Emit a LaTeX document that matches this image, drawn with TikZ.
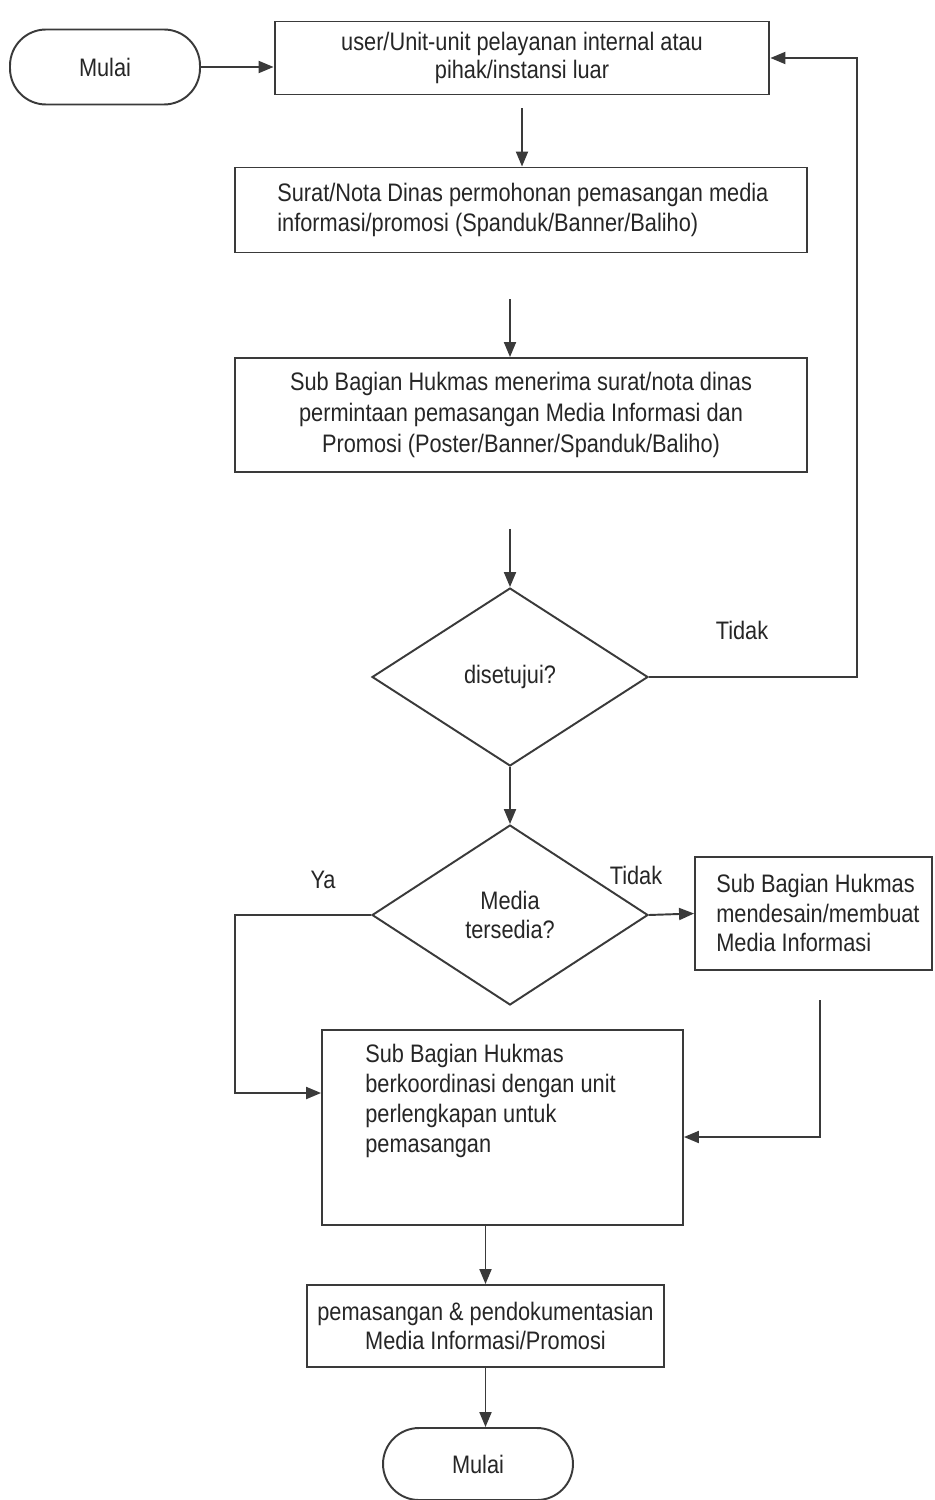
\documentclass[tikz,border=0pt]{standalone}
\usepackage{fontspec}
\setmainfont{Liberation Sans}[FakeStretch=0.86]
\usetikzlibrary{shapes.geometric,arrows.meta,calc}
\definecolor{ln}{HTML}{3A3A3A}
\definecolor{tx}{HTML}{262626}
\begin{document}
\begin{tikzpicture}[x=0.02cm,y=-0.02cm,
  every node/.style={text=tx,font=\fontsize{14.4}{17}\selectfont},
  proc/.style={draw=ln,line width=1.1pt,rectangle,inner sep=0pt,align=center},
  txt/.style={inner sep=0pt,align=left},
  term/.style={draw=ln,line width=1.1pt,rectangle,rounded corners=0.72cm,inner sep=0pt,minimum width=3.8cm},
  dec/.style={draw=ln,line width=1.1pt,diamond,inner sep=0pt,align=center,minimum width=5.52cm},
  arr/.style={draw=ln,line width=1.1pt,-{Triangle[length=0.3cm,width=0.24cm]}},
  lnk/.style={draw=ln,line width=1.1pt}]
\fill[white] (0,0) rectangle (934,1500);
\useasboundingbox (0,0) rectangle (934,1500);

\node[term,minimum height=1.5cm] (start) at (105,67) {Mulai};
\node[proc,minimum width=9.9cm,minimum height=1.46cm,font=\fontsize{14.4}{16}\selectfont] (box1) at (522,58)
  {user/Unit-unit pelayanan internal atau\\pihak/instansi luar};
\node[proc,minimum width=11.44cm,minimum height=1.7cm] (box2) at (521,210) {};
\node[txt,anchor=west] (t2) at (277,210)
  {Surat/Nota Dinas permohonan pemasangan media\\informasi/promosi (Spanduk/Banner/Baliho)};
\node[proc,minimum width=11.44cm,minimum height=2.28cm,font=\fontsize{14.4}{17.5}\selectfont] (box3) at (521,415)
  {Sub Bagian Hukmas menerima surat/nota dinas\\permintaan pemasangan Media Informasi dan\\Promosi (Poster/Banner/Spanduk/Baliho)};
\node[dec,minimum height=3.56cm] (d1) at (510,677) {disetujui?};
\node[dec,minimum height=3.6cm] (d2) at (510,915) {Media\\tersedia?};
\node[proc,minimum width=4.74cm,minimum height=2.26cm] (box5) at (813.5,913.5) {};
\node[txt,anchor=west] (t5) at (716,913)
  {Sub Bagian Hukmas\\mendesain/membuat\\Media Informasi};
\node[proc,minimum width=7.22cm,minimum height=3.9cm] (box4) at (502.5,1127.5) {};
\node[txt,anchor=north west] (t4) at (365,1044)
  {Sub Bagian Hukmas\\berkoordinasi dengan unit\\perlengkapan untuk\\pemasangan};
\node[proc,minimum width=7.14cm,minimum height=1.64cm] (box6) at (485.5,1326)
  {pemasangan \& pendokumentasian\\Media Informasi/Promosi};
\node[term,minimum height=1.44cm] (end) at (478,1464) {Mulai};

\node (lt1) at (742,630) {Tidak};
\node (lya) at (323,880) {Ya};
\node (lt2) at (636,875) {Tidak};

\coordinate (c1) at (857,680);
\coordinate (ya) at (235,1093);
\coordinate (c5a) at (820,1000);
\coordinate (c5b) at (820,1137);

\draw[arr] (start.east) -- (start.east -| box1.west);
\draw[arr,shorten <=0.26cm] (box1.south) -- (box1.south |- box2.north);
\draw[arr,shorten <=0.92cm] (d1.north |- box2.south) -- (d1.north |- box3.north);
\draw[arr,shorten <=1.12cm] (d1.north |- box3.south) -- (d1.north);
\draw[arr] (d1.east) -- (d1.east -| c1) |- (box1.east);
\draw[arr] (d1.south) -- (d2.north);
\draw[arr] (d2.east) -- (box5.west);
\draw[arr] (d2.west) -| (ya) -- (ya -| box4.west);
\draw[arr] (c5a) -- (c5b) -- (c5b -| box4.east);
\draw[arr] (box6.north |- box4.south) -- (box6.north);
\draw[arr] (box6.south) -- (box6.south |- end.north);
\end{tikzpicture}
\end{document}
